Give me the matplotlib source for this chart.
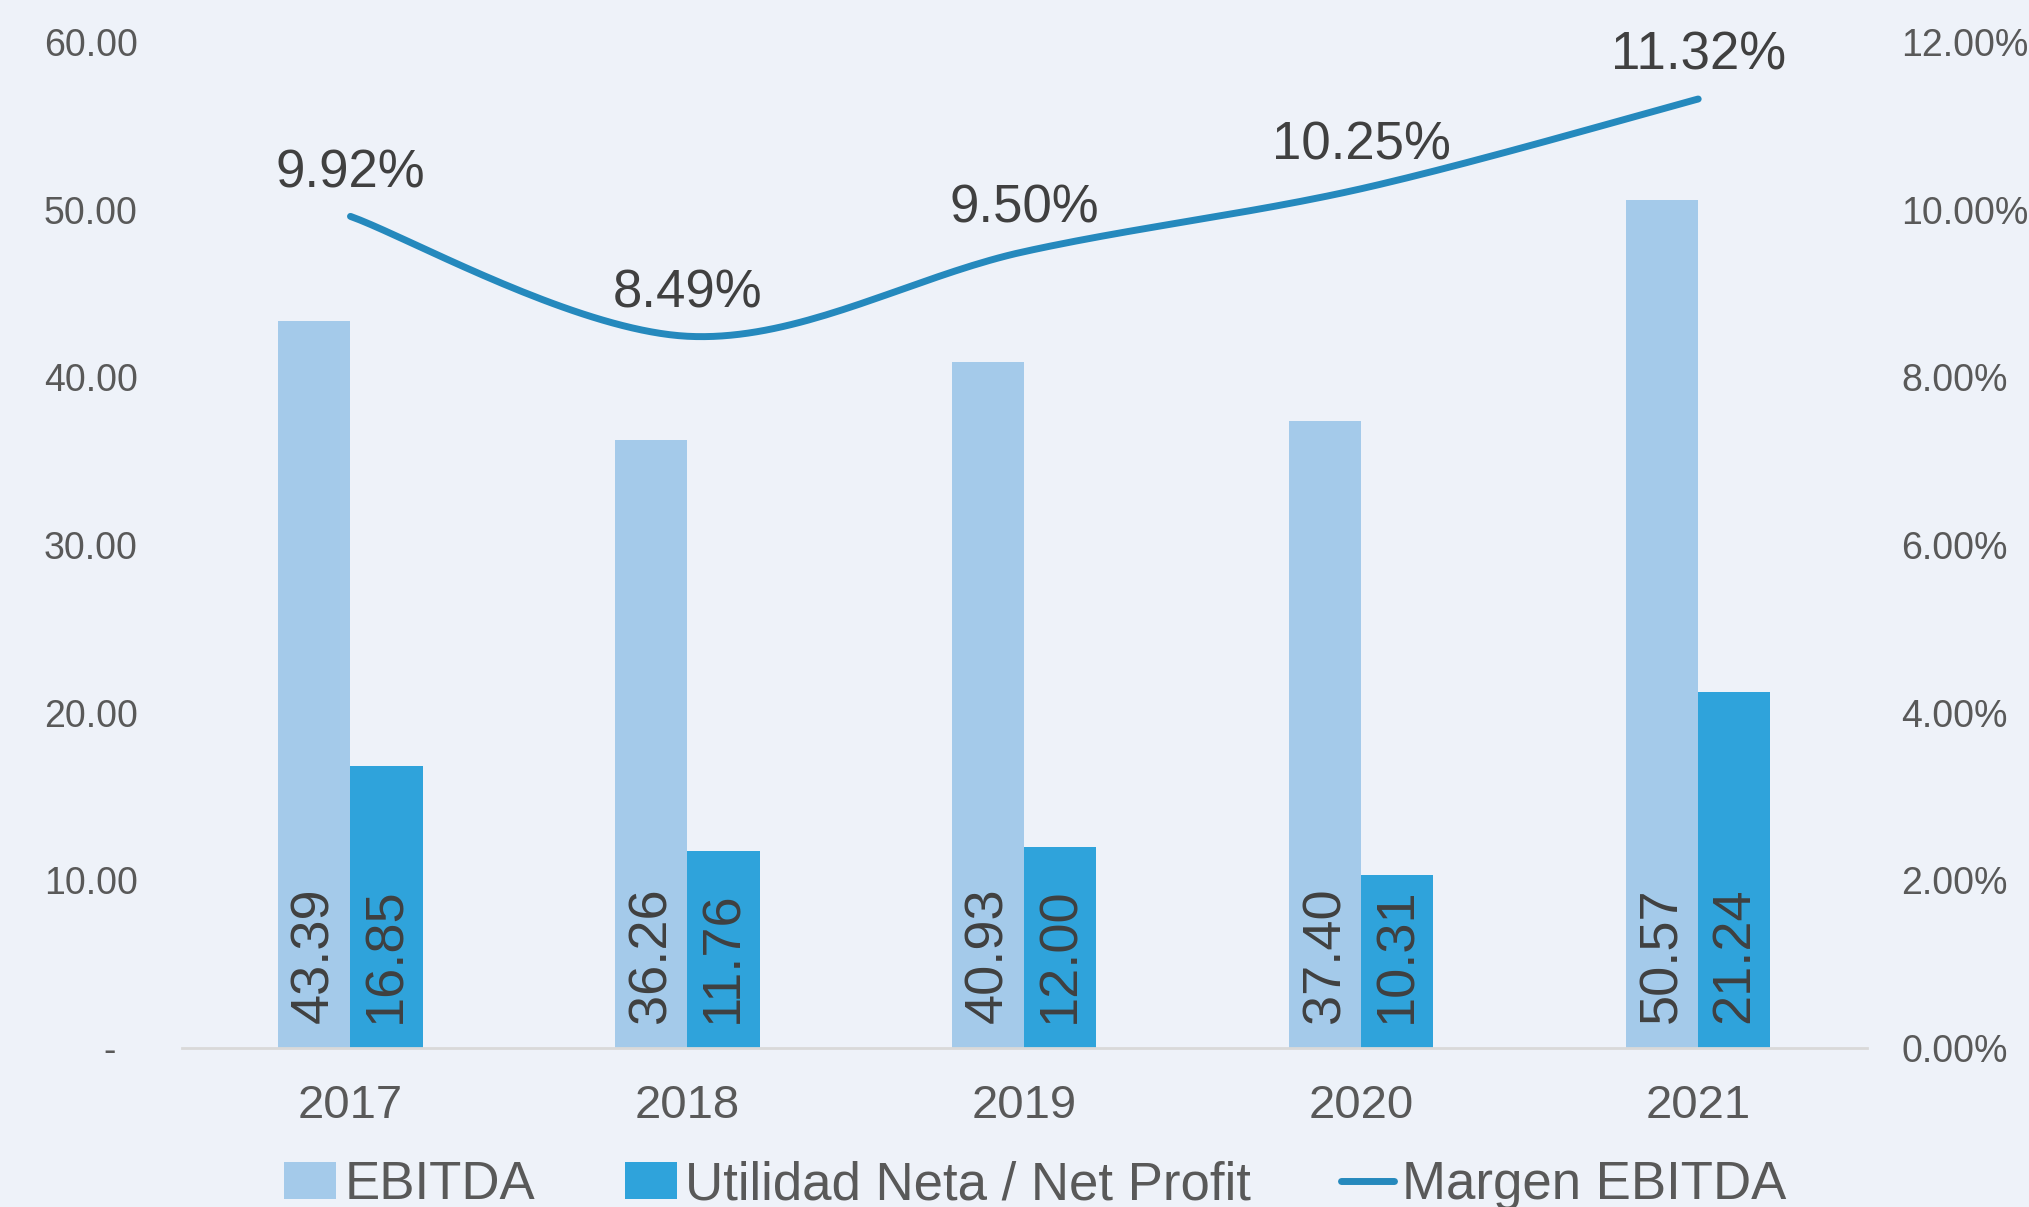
import numpy as np
import matplotlib
matplotlib.use("Agg")
import matplotlib.pyplot as plt
from matplotlib.patches import Patch
from matplotlib.lines import Line2D

# ── Datos ─────────────────────────────────────
ANIOS = ["2017", "2018", "2019", "2020", "2021"]
EBITDA = [43.39, 36.26, 40.93, 37.40, 50.57]
UTILIDAD_NETA = [16.85, 11.76, 12.00, 10.31, 21.24]
MARGEN_EBITDA = [9.92, 8.49, 9.50, 10.25, 11.32]

IZQ_TICKS = [0, 10, 20, 30, 40, 50, 60]
IZQ_LABELS = ["-  ", "10.00", "20.00", "30.00", "40.00", "50.00", "60.00"]
DER_TICKS = [0, 2, 4, 6, 8, 10, 12]
DER_LABELS = ["0.00%", "2.00%", "4.00%", "6.00%", "8.00%", "10.00%", "12.00%"]

COLORES = {
    "fondo": "#EEF2F9",
    "ebitda": "#A4CAEA",
    "utilidad": "#2FA3DB",
    "margen": "#2589BD",
    "eje": "#D9D9D9",
    "tick": "#595959",
    "texto": "#404040",
}
FUENTE = ["Liberation Sans", "DejaVu Sans"]
plt.rcParams["font.family"] = FUENTE


def curva_suave(xs, ys, n=40):
    """Curva tipo Excel (Bezier con tangentes Catmull-Rom)."""
    xs = np.asarray(xs, float)
    ys = np.asarray(ys, float)
    px, py = [], []
    m = len(xs)
    for i in range(m - 1):
        i0, i3 = max(i - 1, 0), min(i + 2, m - 1)
        p0 = np.array([xs[i], ys[i]])
        p3 = np.array([xs[i + 1], ys[i + 1]])
        c1 = p0 + (p3 - np.array([xs[i0], ys[i0]])) / 6
        c2 = p3 - (np.array([xs[i3], ys[i3]]) - p0) / 6
        t = np.linspace(0, 1, n)[:, None]
        seg = ((1 - t) ** 3) * p0 + 3 * ((1 - t) ** 2) * t * c1 \
            + 3 * (1 - t) * t ** 2 * c2 + t ** 3 * p3
        px.extend(seg[:, 0])
        py.extend(seg[:, 1])
    return np.array(px), np.array(py)


fig = plt.figure(figsize=(20.29, 12.07), dpi=100, facecolor=COLORES["fondo"])
ax = fig.add_axes([0.0897, 0.1317, 0.8303, 0.8335])
ax.set_facecolor(COLORES["fondo"])

x = np.arange(len(ANIOS))
ancho = 0.214
b1 = ax.bar(x - ancho / 2, EBITDA, ancho, color=COLORES["ebitda"], zorder=2)
b2 = ax.bar(x + ancho / 2, UTILIDAD_NETA, ancho, color=COLORES["utilidad"], zorder=2)

for barras, vals in ((b1, EBITDA), (b2, UTILIDAD_NETA)):
    for barra, v in zip(barras, vals):
        ax.annotate(f"{v:.2f}", (barra.get_x() + barra.get_width() / 2, 0),
                    xytext=(0, 18), textcoords="offset points",
                    rotation=90, ha="center", va="bottom",
                    fontsize=39, color=COLORES["texto"], zorder=4)

ax.set_xlim(-0.5, len(ANIOS) - 0.5)
ax.set_ylim(0, 60)
ax.set_yticks(IZQ_TICKS)
ax.set_yticklabels(IZQ_LABELS)
ax.set_xticks(x)
ax.set_xticklabels(ANIOS)
ax.tick_params(axis="y", length=0, pad=32, labelsize=27, labelcolor=COLORES["tick"])
ax.tick_params(axis="x", length=0, pad=26, labelsize=34, labelcolor=COLORES["tick"])
for lado in ("top", "right", "left"):
    ax.spines[lado].set_visible(False)
ax.spines["bottom"].set_color(COLORES["eje"])
ax.spines["bottom"].set_linewidth(2)

# ── Eje secundario: margen ─────────────────────
ax2 = ax.twinx()
ax2.set_ylim(0, 12)
ax2.set_yticks(DER_TICKS)
ax2.set_yticklabels(DER_LABELS)
ax2.tick_params(axis="y", length=0, pad=25, labelsize=27, labelcolor=COLORES["tick"])
for lado in ("top", "right", "left", "bottom"):
    ax2.spines[lado].set_visible(False)

cx, cy = curva_suave(x, MARGEN_EBITDA)
ax2.plot(cx, cy, color=COLORES["margen"], linewidth=5, solid_capstyle="round", zorder=3)
for xi, m in zip(x, MARGEN_EBITDA):
    ax2.annotate(f"{m:.2f}%", (xi, m), xytext=(0, 31), textcoords="offset points",
                 ha="center", va="center", fontsize=38, color=COLORES["texto"])

# ── Leyenda ───────────────────────────────────
handles = [
    Patch(facecolor=COLORES["ebitda"]),
    Patch(facecolor=COLORES["utilidad"]),
    Line2D([0], [0], color=COLORES["margen"], linewidth=5, solid_capstyle="round"),
]
etiquetas = ["EBITDA", "Utilidad Neta / Net Profit", "Margen EBITDA"]
fig.legend(handles, etiquetas, loc="center", bbox_to_anchor=(0.51, 0.018),
           ncol=3, frameon=False, fontsize=38, handlelength=1.0, handleheight=0.7,
           handletextpad=0.15, columnspacing=1.7, labelcolor=COLORES["tick"])

fig.savefig("out.png", dpi=100, facecolor=COLORES["fondo"])
